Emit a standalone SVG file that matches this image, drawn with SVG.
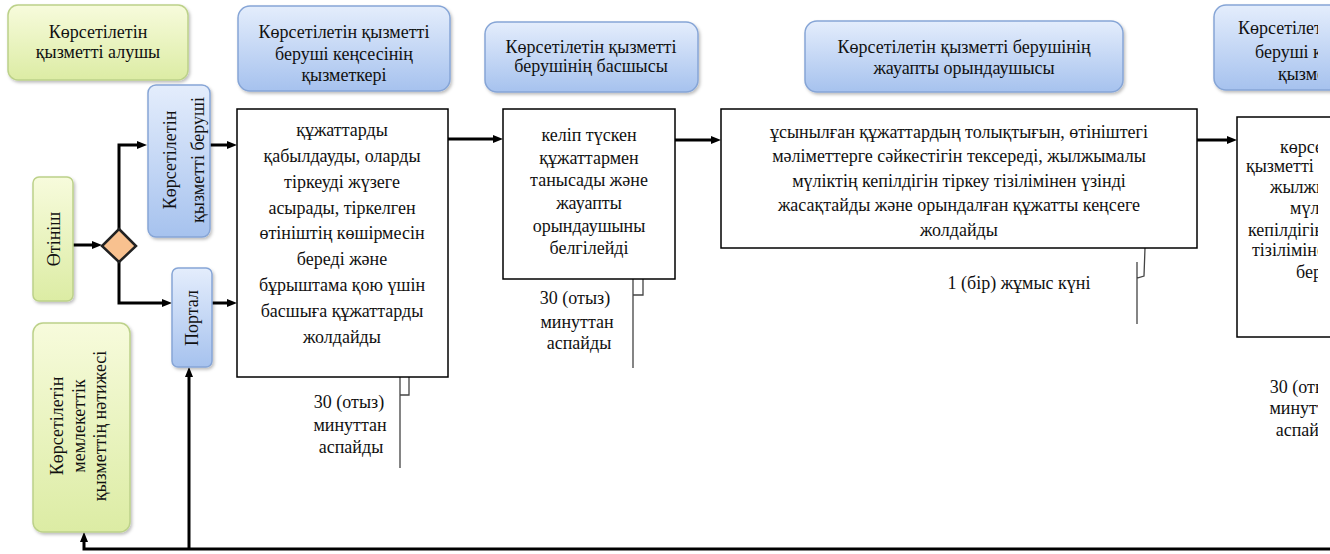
<svg xmlns="http://www.w3.org/2000/svg" width="1330" height="554" viewBox="0 0 1330 554">
<defs>
<linearGradient id="gBlue" x1="0" y1="0" x2="0" y2="1"><stop offset="0" stop-color="#e4edfc"/><stop offset="1" stop-color="#a6c2ee"/></linearGradient>
<linearGradient id="gGreen" x1="0" y1="0" x2="0" y2="1"><stop offset="0" stop-color="#f7fbdc"/><stop offset="1" stop-color="#dceca4"/></linearGradient>
<filter id="sh" x="-10%" y="-10%" width="130%" height="130%"><feDropShadow dx="1.5" dy="2" stdDeviation="1.5" flood-color="#000" flood-opacity="0.25"/></filter>
<marker id="ah" viewBox="0 0 10 10" refX="4" refY="5" markerWidth="10" markerHeight="10" markerUnits="userSpaceOnUse" orient="auto"><path d="M0,1 L10,5 L0,9 z" fill="#000"/></marker>
<clipPath id="edge"><rect x="0" y="0" width="1318" height="554"/></clipPath>
</defs>
<style>
.hdr{fill:url(#gBlue);stroke:#86a5d6;stroke-width:1.5;filter:url(#sh)}
.grn{fill:url(#gGreen);stroke:#bcd189;stroke-width:1.5;filter:url(#sh)}
.box{fill:#fff;stroke:#000;stroke-width:1.5}
.dia{fill:#f8c18f;stroke:#222;stroke-width:2.5}
text{font-family:"Liberation Serif","DejaVu Serif",serif;fill:#111;font-size:18px}
.m{text-anchor:middle}
.c{fill:none;stroke:#000;stroke-width:3;marker-end:url(#ah)}
.thin{fill:none;stroke:#444;stroke-width:1.3}
</style>
<rect width="1330" height="554" fill="#fff"/>

<g id="connectors">
<path class="c" d="M73,245 H96"/>
<path class="c" d="M119,229 V145 H141"/>
<path class="c" d="M119,262 V303 H166"/>
<path class="c" d="M210,145 H231"/>
<path class="c" d="M212,303 H231"/>
<path class="c" d="M448,139 H497"/>
<path class="c" d="M675,140 H715"/>
<path class="c" d="M1197,140 H1231"/>
<path class="c" d="M1330,549 H84 V538"/>
<path class="c" d="M189,549 V373"/>
<path class="thin" d="M400,377 V468 M400,395 H409 V377"/>
<path class="thin" d="M633,279 V368 M633,295 H643 V279"/>
<path class="thin" d="M1145,248 L1144,276 L1137,278 M1137,262 V324"/>
</g>

<g id="h1"><rect class="grn" x="8" y="5" width="180" height="75" rx="10"/>
<text class="m" x="98" y="38">Көрсетілетін</text><text class="m" x="98" y="58">қызметті алушы</text></g>

<g id="h2"><rect class="hdr" x="238" y="6" width="212" height="85" rx="12"/>
<text class="m" x="344" y="38">Көрсетілетін қызметті</text><text class="m" x="344" y="60">беруші кеңсесінің</text><text class="m" x="344" y="81">қызметкері</text></g>

<g id="h3"><rect class="hdr" x="485" y="22" width="213" height="70" rx="12"/>
<text class="m" x="591" y="53">Көрсетілетін қызметті</text><text class="m" x="591" y="72">берушінің басшысы</text></g>

<g id="h4"><rect class="hdr" x="805" y="21" width="318" height="71" rx="12"/>
<text class="m" x="964" y="53">Көрсетілетін қызметті берушінің</text><text class="m" x="964" y="74">жауапты орындаушысы</text></g>

<g id="h5"><rect class="hdr" x="1214" y="5" width="200" height="85" rx="12"/>
<g clip-path="url(#edge)"><text x="1238" y="34">Көрсетілетін қызметті</text><text x="1255" y="58">беруші кеңсесінің</text><text x="1278" y="80">қызметкері</text></g></g>

<g id="otinish"><rect class="grn" x="33" y="177" width="40" height="124" rx="6"/>
<text class="m" transform="translate(53,239) rotate(-90)" x="0" y="6.5">Өтініш</text></g>

<g id="decision"><path class="dia" d="M119,229 L136,246 L119,262 L102,246 Z"/></g>

<g id="provider"><rect class="hdr" x="148" y="85" width="62" height="152" rx="8"/>
<g transform="translate(179,160) rotate(-90)"><text class="m" x="0" y="-3">Көрсетілетін</text><text class="m" x="0" y="25">қызметті беруші</text></g></g>

<g id="portal"><rect class="hdr" x="172" y="268" width="40" height="99" rx="6"/>
<text class="m" transform="translate(192,318) rotate(-90)" x="0" y="6">Портал</text></g>

<g id="result"><rect class="grn" x="33" y="323" width="97" height="209" rx="10"/>
<g transform="translate(81,426) rotate(-90)"><text class="m" x="0" y="-18">Көрсетілетін</text><text class="m" x="0" y="4">мемлекеттік</text><text class="m" x="0" y="25">қызметтің нәтижесі</text></g></g>

<g id="box1"><rect class="box" x="237" y="109" width="211" height="268"/>
<text class="m" x="342" y="136">құжаттарды</text>
<text class="m" x="342" y="162">қабылдауды, оларды</text>
<text class="m" x="342" y="188">тіркеуді жүзеге</text>
<text class="m" x="342" y="214">асырады, тіркелген</text>
<text class="m" x="342" y="239">өтініштің көшірмесін</text>
<text class="m" x="342" y="265">береді және</text>
<text class="m" x="342" y="291">бұрыштама қою үшін</text>
<text class="m" x="342" y="317">басшыға құжаттарды</text>
<text class="m" x="342" y="343">жолдайды</text></g>
<g id="time1"><text class="m" x="349" y="408">30 (отыз)</text><text class="m" x="350" y="431">минуттан</text><text class="m" x="351" y="453">аспайды</text></g>

<g id="box2"><rect class="box" x="503" y="109" width="172" height="170"/>
<text class="m" x="589" y="141">келіп түскен</text>
<text class="m" x="589" y="164">құжаттармен</text>
<text class="m" x="589" y="186">танысады және</text>
<text class="m" x="589" y="209">жауапты</text>
<text class="m" x="589" y="232">орындаушыны</text>
<text class="m" x="589" y="254">белгілейді</text></g>
<g id="time2"><text class="m" x="575" y="304">30 (отыз)</text><text class="m" x="577" y="328">минуттан</text><text class="m" x="579" y="349">аспайды</text></g>

<g id="box3"><rect class="box" x="721" y="109" width="476" height="139"/>
<text class="m" x="959" y="138">ұсынылған құжаттардың толықтығын, өтініштегі</text>
<text class="m" x="959" y="162">мәліметтерге сәйкестігін тексереді, жылжымалы</text>
<text class="m" x="959" y="187">мүліктің кепілдігін тіркеу тізілімінен үзінді</text>
<text class="m" x="959" y="211">жасақтайды және орындалған құжатты кеңсеге</text>
<text class="m" x="959" y="236">жолдайды</text></g>
<g id="time3"><text class="m" x="1019" y="289">1 (бір) жұмыс күні</text></g>

<g id="box4"><rect class="box" x="1237" y="117" width="120" height="220"/>
<g clip-path="url(#edge)">
<text x="1280" y="153">көрсетілетін</text>
<text x="1246" y="172">қызметті алушыға</text>
<text x="1270" y="193">жылжымалы</text>
<text x="1290" y="214">мүліктің</text>
<text x="1248" y="236">кепілдігін тіркеу</text>
<text x="1252" y="256">тізілімінен үзінді</text>
<text x="1296" y="278">береді</text></g></g>
<g id="time4" clip-path="url(#edge)"><text class="m" x="1305" y="393">30 (отыз)</text><text class="m" x="1306" y="414">минуттан</text><text class="m" x="1308" y="436">аспайды</text></g>
</svg>
